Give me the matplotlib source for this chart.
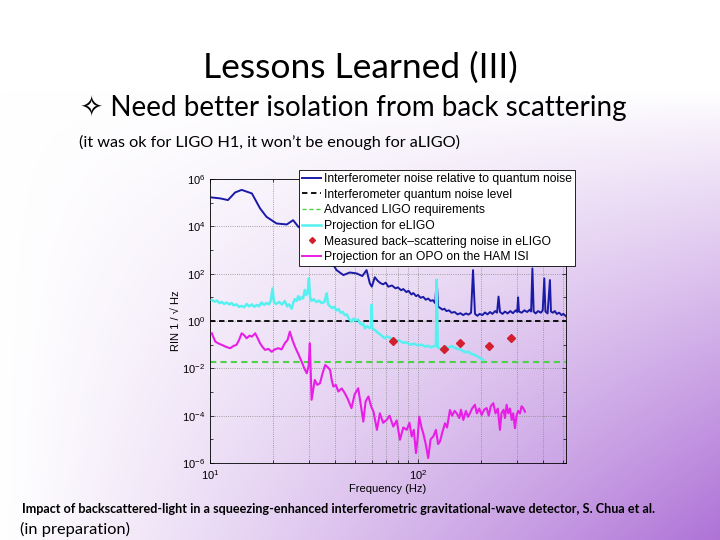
import numpy as np
import matplotlib
matplotlib.use("Agg")
import matplotlib.pyplot as plt
from matplotlib.lines import Line2D
from matplotlib.ticker import LogLocator, NullFormatter

plt.rcParams['font.family'] = ['Liberation Sans', 'DejaVu Sans']
plt.rcParams['mathtext.default'] = 'regular'

# ...   data (frequency in Hz, values as log10 of RIN)
ifo_freq = [10.2, 11.2, 12.2, 13.2, 14.2, 15.9, 17.4, 18.7, 20.9, 23.4, 25.1, 26.6,
            29, 31, 33, 35, 37, 39, 40.6, 43.8, 47, 50.7, 54, 56.6, 58.7,
            60, 62, 64, 66, 68, 70, 72, 75, 78, 80, 83, 85, 88, 90, 93, 95, 98, 100,
            103, 106, 109, 112, 115, 118, 121, 123, 125, 128, 131, 134, 137, 141, 145,
            150, 155, 160, 165, 170, 175, 180, 184, 188, 193, 198, 204, 210, 216, 222,
            228, 235, 240, 244, 248, 255, 262, 270, 278, 286, 295, 300, 303, 306, 315,
            325, 335, 345, 350, 355, 360, 368, 378, 390, 398, 405, 410, 420, 431, 436,
            445, 455, 465, 478, 490, 500, 515]
ifo_log = [5.22, 5.18, 5.11, 5.43, 5.54, 5.39, 4.76, 4.40, 4.12, 4.08, 4.26, 3.98,
           3.8, 3.5, 3.2, 3.0, 2.7, 2.4, 2.15, 1.94, 2.05, 2.01, 1.9, 2.15, 1.59,
           1.45, 1.85, 1.7, 1.6, 1.55, 1.62, 1.45, 1.5, 1.38, 1.42, 1.3, 1.35, 1.22, 1.28,
           1.12, 1.18, 1.05, 1.1, 0.98, 1.02, 0.9, 0.95, 0.85, 0.88, 0.75, 1.73, 0.6, 0.55,
           0.48, 0.52, 0.42, 0.45, 0.35, 0.38, 0.28, 0.33, 0.25, 0.32, 0.27, 0.35, 2.15,
           0.3, 0.22, 0.3, 0.25, 0.36, 0.28, 0.38, 0.3, 0.42, 0.35, 1.03, 0.38, 0.3, 0.4,
           0.32, 0.42, 0.33, 0.45, 0.38, 1.0, 0.4, 0.35, 0.45, 0.38, 0.48, 0.4, 2.22, 0.4,
           0.32, 0.42, 0.35, 0.45, 1.8, 0.4, 0.32, 1.73, 0.4, 0.35, 0.42, 0.3, 0.35, 0.25,
           0.3, 0.2]

qn_level = 1.0
aligo_req = 10 ** -1.75

elig_freq = [10.2, 10.5, 10.8, 11.1, 11.4, 11.7, 12.0, 12.4, 12.7, 13.0, 13.4, 13.8,
             14.2, 14.6, 15.0, 15.4, 15.9, 16.3, 16.8, 17.2, 17.7, 18.2, 18.7, 19.2,
             19.6, 20.0, 20.3, 20.8, 21.5, 22.2, 22.9, 23.5, 24.0, 24.7, 25.2, 25.6,
             26.1, 26.6, 27.0, 27.5, 28.0, 28.6, 29.0, 29.5, 29.9, 30.3, 30.8, 31.5,
             32.5, 33.4, 34.4, 35.5, 36.4, 37.0, 37.8, 38.6, 39.5, 40.5, 41.5, 42.5,
             43.5, 44.5, 45.5, 46.5, 47.9, 49, 50, 51.6, 52.5, 53.5, 54.5, 55.5, 57,
             58.5, 59.5, 59.9, 60.4, 62.1, 63.8, 65.5, 67, 69.1, 71, 73, 75.5, 78, 81,
             85, 88, 92, 96, 100, 104, 108, 112, 115, 119, 122, 123, 124.5, 128, 132,
             136, 140, 145, 150, 155, 160, 165, 170, 175, 180, 185, 190, 195, 200, 206]
elig_log = [0.89, 0.82, 0.86, 0.76, 0.8, 0.72, 0.78, 0.7, 0.76, 0.66, 0.7, 0.6,
            0.64, 0.58, 0.72, 0.62, 0.7, 0.6, 0.68, 0.62, 0.78, 0.68, 0.76, 0.7,
            0.86, 1.38, 0.8, 0.72, 0.8, 0.7, 0.84, 0.62, 0.7, 0.52, 0.8, 0.92,
            0.85, 1.05, 0.9, 1.0, 0.95, 1.31, 1.1, 1.2, 1.80, 1.0, 0.85, 0.92,
            0.8, 0.86, 0.76, 0.8, 1.17, 0.7, 0.62, 0.55, 0.6, 0.45, 0.5, 0.35,
            0.38, 0.25, 0.28, 0.1, -0.03, 0.1, 0.02, 0.06, -0.1, -0.15, -0.1, -0.31, -0.22,
            -0.3, -0.25, 0.68, -0.32, -0.38, -0.48, -0.55, -0.62, -0.73, -0.65, -0.7, -0.78, -0.85, -0.82,
            -0.92, -0.9, -1.0, -0.96, -1.03, -1.0, -1.08, -1.05, -1.11, -1.07, -1.05, 1.73, -1.12, -1.18, -1.15,
            -1.08, -1.14, -1.06, -1.12, -1.18, -1.2, -1.28, -1.32, -1.3, -1.38, -1.42, -1.45, -1.52, -1.58, -1.65]

meas_freq = [76, 133, 159, 219, 279]
meas_log = [-0.84, -1.19, -0.91, -1.05, -0.73]

opo_freq = [10.2, 10.6, 11.0, 11.4, 12.0, 12.5, 13.0, 13.4, 13.8, 14.2, 14.6, 15.0,
            15.5, 15.9, 16.5, 17.0, 17.4, 17.9, 18.4, 19.1, 19.8, 20.5, 21.3, 22.1,
            22.9, 23.6, 24.2, 24.9, 25.6, 26.6, 27.6, 28.4, 29.2, 29.8, 30.2, 30.8,
            31.9, 32.8, 33.8, 34.8, 35.8, 36.8, 37.8, 38.5, 39.2, 40.3, 41.4, 43, 44.5,
            46, 47.9, 49.6, 51.6, 53, 54.6, 56, 57.8, 59.5, 61.1, 63.5, 65.6, 68, 70.7,
            73, 76.1, 79, 81.9, 85, 88.3, 91, 93.3, 95.5, 97.8, 99.5, 101.4, 104, 106,
            109, 112, 115, 118.5, 122, 125, 127.6, 131, 134.9, 138, 142.5, 146, 150,
            153.5, 158, 161, 165.2, 170, 174, 177.8, 182, 187.9, 192, 197, 202.4, 208,
            213.9, 219, 224, 230.2, 236, 242, 247.9, 252, 258, 262, 266.9, 272, 277,
            282.4, 287, 292.6, 298, 303, 309.3, 315, 320.6, 326.8]
opo_log = [-0.52, -0.87, -0.95, -1.01, -1.1, -1.15, -1.05, -1.01, -0.8, -0.52, -0.6, -0.73,
           -0.62, -0.66, -0.52, -0.75, -0.94, -1.1, -1.22, -1.18, -1.30, -1.2, -1.15, -1.2,
           -0.94, -0.8, -0.45, -0.8, -1.08, -1.4, -1.72, -2.0, -2.21, -1.9, -0.94, -3.33,
           -2.49, -2.7, -2.63, -2.2, -1.86, -1.95, -2.07, -2.5, -2.77, -2.7, -2.98, -2.85, -3.05,
           -3.3, -3.68, -3.1, -2.84, -3.5, -4.25, -3.4, -3.19, -3.6, -3.83, -4.6, -3.9, -4.3, -4.18,
           -4.0, -4.46, -4.2, -5.02, -4.5, -4.6, -4.3, -4.88, -4.6, -5.58, -5.0, -4.04, -4.5, -4.74,
           -5.2, -5.79, -5.0, -4.88, -4.6, -5.2, -5.09, -4.7, -4.32, -4.5, -3.76, -4.0, -3.8,
           -3.9, -4.1, -3.75, -4.18, -3.8, -4.05, -3.9, -3.7, -3.54, -3.9, -3.7, -3.97, -3.75,
           -3.68, -4.0, -3.6, -3.47, -3.9, -3.7, -4.6, -3.9, -3.75, -4.1, -3.54, -3.9, -3.7,
           -4.18, -3.9, -4.53, -4.0, -3.8, -3.9, -3.6, -3.68, -3.83]

labels = ["Interferometer noise relative to quantum noise",
          "Interferometer quantum noise level",
          "Advanced LIGO requirements",
          "Projection for eLIGO",
          "Measured back\u2013scattering noise in eLIGO",
          "Projection for an OPO on the HAM ISI"]

c_ifo = '#1a1aa6'
c_elig = '#55f0f0'
c_meas = '#d41f2f'
c_opo = '#e81ee6'
c_green = '#4fd24a'

fig = plt.figure(figsize=(7.2, 5.4), dpi=100)

# slide background: white fading to lavender towards the lower right
bg = fig.add_axes([0, 0, 1, 1], zorder=-5)
xx, yy = np.meshgrid(np.linspace(0, 1, 360), np.linspace(0, 1, 270))
t = np.clip(xx, 0, 1) ** 1.1 * np.clip((yy - 0.17) / 0.83, 0, 1) ** 0.9
white = np.array([1.0, 1.0, 1.0])
purple = np.array([175, 115, 215]) / 255
img = white[None, None, :] * (1 - t[..., None]) + purple[None, None, :] * t[..., None]
bg.imshow(img, extent=[0, 1, 1, 0], aspect='auto', interpolation='bilinear')
bg.set_xlim(0, 1)
bg.set_ylim(1, 0)
bg.axis('off')

# ...   slide texts
fig.text(0.5, 1 - 68 / 540, "Lessons Learned (III)", ha='center', va='center',
         fontsize=25.5, family=['Lato', 'DejaVu Sans'])
fig.text(80 / 720, 1 - 108 / 540, "\u2727 Need better isolation from back scattering",
         ha='left', va='center', fontsize=20, family=['Lato', 'DejaVu Sans'])
fig.text(79 / 720, 1 - 142 / 540, "(it was ok for LIGO H1, it won\u2019t be enough for aLIGO)",
         ha='left', va='center', fontsize=11.7, family=['Lato', 'DejaVu Sans'])
fig.text(22 / 720, 1 - 509 / 540,
         "Impact of backscattered-light in a squeezing-enhanced interferometric "
         "gravitational-wave detector, S. Chua et al.",
         ha='left', va='center', fontsize=9.1, fontweight='bold',
         family=['Lato', 'DejaVu Sans'])
fig.text(20 / 720, 1 - 529 / 540, "(in preparation)", ha='left', va='center',
         fontsize=11.8, family=['Lato', 'DejaVu Sans'])

# ...   the plot
ax = fig.add_axes([210 / 720, 1 - 463 / 540, 356 / 720, 284 / 540])
ax.set_facecolor('none')
ax.set_xscale('log')
ax.set_yscale('log')

ax.plot(ifo_freq, 10 ** np.asarray(ifo_log), color=c_ifo, lw=1.4, zorder=3)
ax.axhline(qn_level, color='k', ls=(0, (3, 2)), lw=1.3, zorder=2)
ax.axhline(aligo_req, color=c_green, ls=(0, (3, 2)), lw=1.5, zorder=2)
ax.plot(elig_freq, 10 ** np.asarray(elig_log), color=c_elig, lw=1.8, zorder=3)
ax.plot(meas_freq, 10 ** np.asarray(meas_log), ls='none', marker='D', ms=4,
        color=c_meas, zorder=4)
ax.plot(opo_freq, 10 ** np.asarray(opo_log), color=c_opo, lw=1.5, zorder=3)

ax.set_xlim(10, 515)
ax.set_ylim(1e-6, 1e6)
ax.yaxis.set_major_locator(LogLocator(base=100.0))
ax.yaxis.set_minor_locator(LogLocator(base=10.0, subs=[1.0], numticks=20))
ax.yaxis.set_minor_formatter(NullFormatter())
ax.tick_params(which='both', direction='in', top=True, right=True, labelsize=8,
               length=3, width=0.5)
ax.tick_params(which='minor', length=2)
ax.grid(True, which='major', axis='y', ls=':', lw=0.6, color='#888888')
ax.grid(True, which='both', axis='x', ls=':', lw=0.6, color='#888888')
for s in ax.spines.values():
    s.set_linewidth(0.6)
ax.set_xlabel("Frequency (Hz)", fontsize=8, labelpad=2)
ax.set_ylabel("RIN 1 / \u221a Hz", fontsize=8, labelpad=1)

handles = [Line2D([], [], color=c_ifo, lw=1.4),
           Line2D([], [], color='k', ls=(0, (3, 2)), lw=1.3),
           Line2D([], [], color=c_green, ls=(0, (3, 2)), lw=1.0),
           Line2D([], [], color=c_elig, lw=1.8),
           Line2D([], [], ls='none', marker='D', ms=3, color=c_meas),
           Line2D([], [], color=c_opo, lw=1.4)]
leg = fig.legend(handles, labels, loc='upper left',
                 bbox_to_anchor=(299 / 720, 1 - 170 / 540), fontsize=8.7,
                 frameon=True, fancybox=False, framealpha=1, edgecolor='k',
                 borderpad=0.25, labelspacing=0.3, handlelength=1.6,
                 handletextpad=0.2, borderaxespad=0)
leg.get_frame().set_linewidth(0.6)
leg.set_zorder(10)

fig.savefig("out.png", dpi=100)
